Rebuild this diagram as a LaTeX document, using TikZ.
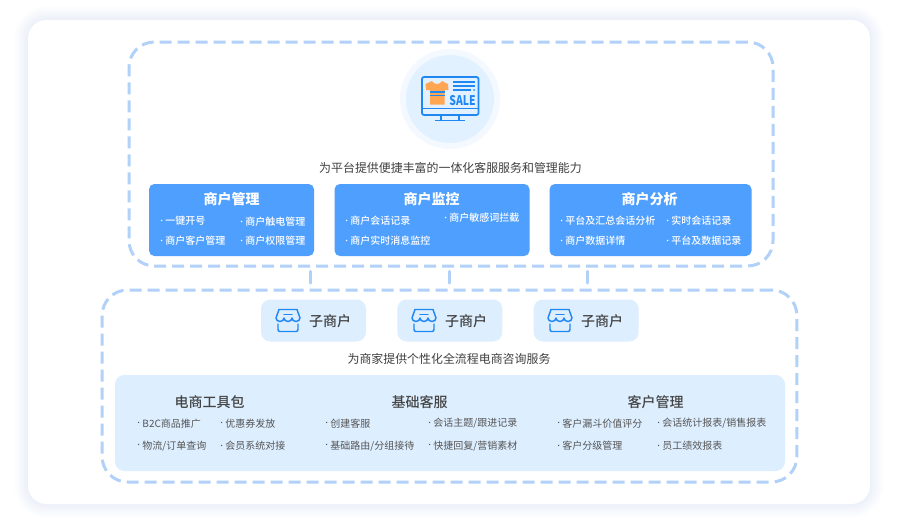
\documentclass[tikz,border=0pt]{standalone}
\usepackage{fontspec}
\setmainfont{Noto Sans CJK SC}
\newfontfamily\mediumfont{Noto Sans CJK SC Medium}
\usetikzlibrary{positioning}
\definecolor{dashblue}{HTML}{B2D1F9}
\definecolor{boxblue}{HTML}{4F9FFE}
\definecolor{paleblue}{HTML}{DDEEFF}
\definecolor{badgeouter}{HTML}{F3F9FF}
\definecolor{iconblue}{HTML}{2088F2}
\definecolor{shirtorange}{HTML}{FFA653}
\definecolor{shadowblue}{HTML}{8FA6DC}
\definecolor{textdark}{HTML}{444444}
\definecolor{textgray}{HTML}{555555}
\newcommand{\itemdot}{\raisebox{1.1pt}{\fontsize{5pt}{5pt}\selectfont •}\hspace{0.4pt}}

\begin{document}
\begin{tikzpicture}[
    x=0.75pt, y=-0.75pt,
    frame/.style={rectangle, draw=dashblue, line width=2.25pt, dash pattern=on 9pt off 4.5pt, rounded corners=19pt, inner sep=0pt},
    link/.style={draw=dashblue, line width=2.25pt, line cap=round, shorten <=4pt, shorten >=4pt},
    bluebox/.style={rectangle, fill=boxblue, rounded corners=4pt, minimum height=54pt, inner sep=0pt},
    subbox/.style={rectangle, fill=paleblue, rounded corners=7pt, minimum width=78.75pt, minimum height=31.5pt, inner sep=0pt},
    caption/.style={font=\fontsize{8.95pt}{11pt}\selectfont, text=black!75, inner sep=0pt},
    boxtitle/.style={font=\fontsize{10.5pt}{12pt}\selectfont\bfseries, text=white, inner sep=0pt},
    paletitle/.style={font=\fontsize{10.5pt}{12pt}\mediumfont, text=textdark, inner sep=0pt},
    whiteitem/.style={anchor=west, font=\fontsize{7.5pt}{9pt}\mediumfont, text=white, inner sep=0pt},
    grayitem/.style={anchor=west, font=\fontsize{7.5pt}{9pt}\selectfont, text=textgray, inner sep=0pt},
    shopicon/.pic={
        \draw[iconblue, line width=1.1pt, line join=round, line cap=round]
            (-9,-11.5) -- (9,-11.5) -- (12,-3)
            arc[start angle=0, end angle=180, x radius=4, y radius=3.5]
            arc[start angle=0, end angle=180, x radius=4, y radius=3.5]
            arc[start angle=0, end angle=180, x radius=4, y radius=3.5] -- cycle;
        \draw[iconblue, line width=1.1pt, line cap=round, rounded corners=1.5pt]
            (-10,3) -- (-10,10.5) -- (10,10.5) -- (10,3);
        \draw[iconblue, line width=0.9pt, line cap=round] (-4,-6.5) -- (4,-6.5);
    }
]
    \useasboundingbox (0,0) rectangle (900,529);

    % --- Card ---
    \foreach \s in {1,...,14}
        \fill[shadowblue, fill opacity=0.012, rounded corners=14pt+0.75*\s pt]
            (28-\s,20-\s) rectangle (870+\s,504+\s);
    \node [rectangle, fill=white, rounded corners=14pt, minimum width=631.5pt, minimum height=363pt, inner sep=0pt] (card) at (449,262) {};

    % --- Upper frame ---
    \node [frame, minimum width=483pt, minimum height=168pt] (upperframe) at (451,154) {};

    % Monitor badge
    \node [circle, fill=badgeouter, minimum size=75pt, inner sep=0pt] (badgeout) at (450,99) {};
    \node [circle, fill=paleblue!85, minimum size=66pt, inner sep=0pt] (badgein) at (450,99) {};
    \fill[shirtorange] (432,81) -- (425.5,84) -- (426,90) -- (430,90) -- (430,104.5) -- (444.5,104.5) -- (444.5,90) -- (448.5,90) -- (448,84) -- (442,81) .. controls (440,85) and (434,85) .. (432,81) -- cycle;
    \draw[iconblue, line width=0.9pt] (430,92) -- (444.5,92) (430,95.5) -- (444.5,95.5);
    \draw[iconblue, line width=1.3pt, rounded corners=1.5pt] (422,77) rectangle (478.5,115);
    \draw[iconblue, line width=1.1pt] (422,108.5) -- (478.5,108.5);
    \draw[iconblue, line width=1.1pt] (441,115) -- (441,120.5) (459,115) -- (459,120.5);
    \draw[iconblue, line width=1.3pt] (435,120.5) -- (465,120.5);
    \draw[iconblue, line width=1pt] (453,82) -- (475,82) (453,86) -- (475,86) (453,90) -- (471,90);
    \fill[iconblue] (474,90) circle[radius=1];
    \node [inner sep=0pt, text=iconblue, font=\fontsize{9.5pt}{10pt}\selectfont\bfseries, xscale=0.82, yscale=1.05, transform shape] (sale) at (462.5,100.5) {SALE};

    \node [caption] (uppercaption) at (450.5,167.5) {为平台提供便捷丰富的一体化客服服务和管理能力};

    % --- Blue boxes ---
    \node [bluebox, minimum width=123.75pt] (mgmt) at (231.5,220) {};
    \node [bluebox, minimum width=146.25pt, right=15pt of mgmt] (monitor) {};
    \node [bluebox, minimum width=151.5pt, right=14.6pt of monitor] (analysis) {};

    \node [boxtitle] (mgmttitle) at (231.5,199.5) {商户管理};
    \node [boxtitle] (monitortitle) at (431.5,199.5) {商户监控};
    \node [boxtitle] (analysistitle) at (649.5,199.5) {商户分析};

    % Items of each box
    \node [whiteitem] (mgmta) at (158,221) {\itemdot 一键开号};
    \node [whiteitem] (mgmtb) at (238,222) {\itemdot 商户触电管理};
    \node [whiteitem] (mgmtc) at (158,241) {\itemdot 商户客户管理};
    \node [whiteitem] (mgmtd) at (238,241) {\itemdot 商户权限管理};

    \node [whiteitem] (monitora) at (343,221) {\itemdot 商户会话记录};
    \node [whiteitem] (monitorb) at (343,241) {\itemdot 商户实时消息监控};
    \node [whiteitem] (monitorc) at (442,218) {\itemdot 商户敏感词拦截};

    \node [whiteitem] (analysisa) at (558,221) {\itemdot 平台及汇总会话分析};
    \node [whiteitem] (analysisb) at (664,221) {\itemdot 实时会话记录};
    \node [whiteitem] (analysisc) at (558,241) {\itemdot 商户数据详情};
    \node [whiteitem] (analysisd) at (664,241) {\itemdot 平台及数据记录};

    % --- Lower frame ---
    \node [frame, minimum width=521pt, minimum height=144pt] (lowerframe) at (449.5,386) {};

    % --- Connections ---
    \coordinate (linka) at (310,266);
    \coordinate (linkb) at (449.5,266);
    \coordinate (linkc) at (587,266);
    \draw [link] (linka) -- (linka |- lowerframe.north);
    \draw [link] (linkb) -- (linkb |- lowerframe.north);
    \draw [link] (linkc) -- (linkc |- lowerframe.north);

    % --- Sub merchants ---
    \node [subbox] (suba) at (313.5,320.5) {};
    \node [subbox, right=23.1pt of suba] (subb) {};
    \node [subbox, right=23.1pt of subb] (subc) {};
    \pic at (288,321) {shopicon};
    \pic at (424,321) {shopicon};
    \pic at (560,321) {shopicon};
    \node [paletitle] (subatext) at (330,321) {子商户};
    \node [paletitle] (subbtext) at (466,321) {子商户};
    \node [paletitle] (subctext) at (602,321) {子商户};

    \node [caption] (lowercaption) at (449,359) {为商家提供个性化全流程电商咨询服务};

    % --- Lower panel ---
    \node [rectangle, fill=paleblue, rounded corners=7pt, minimum width=502.5pt, minimum height=72pt, inner sep=0pt] (panel) at (450,423) {};

    \node [paletitle] (toolstitle) at (209.5,402.5) {电商工具包};
    \node [paletitle] (basictitle) at (419.5,402.5) {基础客服};
    \node [paletitle] (clienttitle) at (655.5,402.5) {客户管理};

    \node [grayitem] (toolsa) at (135,423.5) {\itemdot B2C商品推广};
    \node [grayitem] (toolsb) at (218,423.5) {\itemdot 优惠券发放};
    \node [grayitem] (toolsc) at (135,446) {\itemdot 物流/订单查询};
    \node [grayitem] (toolsd) at (218,446) {\itemdot 会员系统对接};

    \node [grayitem] (basica) at (323,423.5) {\itemdot 创建客服};
    \node [grayitem] (basicb) at (426,423.5) {\itemdot 会话主题/跟进记录};
    \node [grayitem] (basicc) at (323,446) {\itemdot 基础路由/分组接待};
    \node [grayitem] (basicd) at (426,446) {\itemdot 快捷回复/营销素材};

    \node [grayitem] (clienta) at (555,423.5) {\itemdot 客户漏斗价值评分};
    \node [grayitem] (clientb) at (655,423.5) {\itemdot 会话统计报表/销售报表};
    \node [grayitem] (clientc) at (555,446) {\itemdot 客户分级管理};
    \node [grayitem] (clientd) at (655,446) {\itemdot 员工绩效报表};

\end{tikzpicture}
\end{document}
